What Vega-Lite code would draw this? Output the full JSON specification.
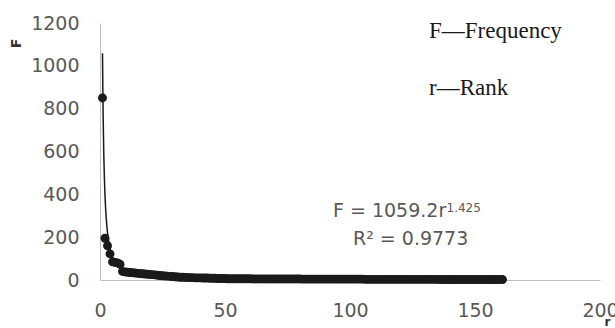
{
  "$schema": "https://vega.github.io/schema/vega-lite/v6.json",
  "width": 500,
  "height": 257,
  "autosize": {"type": "none"},
  "padding": {"left": 100, "top": 23, "right": 15, "bottom": 48},
  "background": "white",
  "config": {"view": {"stroke": null}},
  "datasets": {
    "points": [
      {"r":1,"F":850},{"r":2,"F":195},{"r":3,"F":160},{"r":4,"F":122},{"r":5,"F":85},{"r":6,"F":82},{"r":7,"F":80},{"r":8,"F":74},{"r":9,"F":40},{"r":10,"F":38},
      {"r":11,"F":36},{"r":12,"F":35},{"r":13,"F":34},{"r":14,"F":33},{"r":15,"F":31},{"r":16,"F":30},{"r":17,"F":29},{"r":18,"F":28},{"r":19,"F":27},{"r":20,"F":26},
      {"r":21,"F":25},{"r":22,"F":24},{"r":23,"F":22},{"r":24,"F":21},{"r":25,"F":20},{"r":26,"F":19},{"r":27,"F":18},{"r":28,"F":17},{"r":29,"F":16},{"r":30,"F":15},
      {"r":31,"F":14},{"r":32,"F":13},{"r":33,"F":13},{"r":34,"F":12},{"r":35,"F":12},{"r":36,"F":11},{"r":37,"F":11},{"r":38,"F":10},{"r":39,"F":10},{"r":40,"F":10},
      {"r":41,"F":9},{"r":42,"F":9},{"r":43,"F":9},{"r":44,"F":8},{"r":45,"F":8},{"r":46,"F":8},{"r":47,"F":7},{"r":48,"F":7},{"r":49,"F":7},{"r":50,"F":7},
      {"r":51,"F":6},{"r":52,"F":6},{"r":53,"F":6},{"r":54,"F":6},{"r":55,"F":6},{"r":56,"F":6},{"r":57,"F":6},{"r":58,"F":6},{"r":59,"F":6},{"r":60,"F":6},
      {"r":61,"F":5},{"r":62,"F":5},{"r":63,"F":5},{"r":64,"F":5},{"r":65,"F":5},{"r":66,"F":5},{"r":67,"F":5},{"r":68,"F":5},{"r":69,"F":5},{"r":70,"F":5},
      {"r":71,"F":5},{"r":72,"F":5},{"r":73,"F":5},{"r":74,"F":5},{"r":75,"F":5},{"r":76,"F":5},{"r":77,"F":5},{"r":78,"F":5},{"r":79,"F":5},{"r":80,"F":5},
      {"r":81,"F":4},{"r":82,"F":4},{"r":83,"F":4},{"r":84,"F":4},{"r":85,"F":4},{"r":86,"F":4},{"r":87,"F":4},{"r":88,"F":4},{"r":89,"F":4},{"r":90,"F":4},
      {"r":91,"F":4},{"r":92,"F":4},{"r":93,"F":4},{"r":94,"F":4},{"r":95,"F":4},{"r":96,"F":4},{"r":97,"F":4},{"r":98,"F":4},{"r":99,"F":4},{"r":100,"F":4},
      {"r":101,"F":4},{"r":102,"F":4},{"r":103,"F":4},{"r":104,"F":4},{"r":105,"F":4},{"r":106,"F":3},{"r":107,"F":3},{"r":108,"F":3},{"r":109,"F":3},{"r":110,"F":3},
      {"r":111,"F":3},{"r":112,"F":3},{"r":113,"F":3},{"r":114,"F":3},{"r":115,"F":3},{"r":116,"F":3},{"r":117,"F":3},{"r":118,"F":3},{"r":119,"F":3},{"r":120,"F":3},
      {"r":121,"F":3},{"r":122,"F":3},{"r":123,"F":3},{"r":124,"F":3},{"r":125,"F":3},{"r":126,"F":3},{"r":127,"F":3},{"r":128,"F":3},{"r":129,"F":3},{"r":130,"F":3},
      {"r":131,"F":3},{"r":132,"F":3},{"r":133,"F":3},{"r":134,"F":3},{"r":135,"F":3},{"r":136,"F":2},{"r":137,"F":2},{"r":138,"F":2},{"r":139,"F":2},{"r":140,"F":2},
      {"r":141,"F":2},{"r":142,"F":2},{"r":143,"F":2},{"r":144,"F":2},{"r":145,"F":2},{"r":146,"F":2},{"r":147,"F":2},{"r":148,"F":2},{"r":149,"F":2},{"r":150,"F":2},
      {"r":151,"F":2},{"r":152,"F":2},{"r":153,"F":2},{"r":154,"F":2},{"r":155,"F":2},{"r":156,"F":2},{"r":157,"F":2},{"r":158,"F":2},{"r":159,"F":2},{"r":160,"F":2},
      {"r":161,"F":2}
    ],
    "trend": [
      {"r":1,"F":1059.2},{"r":1.1,"F":924.7},{"r":1.25,"F":770.7},{"r":1.5,"F":594.3},{"r":1.75,"F":477.2},{"r":2,"F":394.5},
      {"r":2.5,"F":287.0},{"r":3,"F":221.3},{"r":4,"F":146.9},{"r":5,"F":106.9},{"r":6,"F":82.4},{"r":8,"F":54.7},
      {"r":10,"F":39.8},{"r":13,"F":27.4},{"r":16,"F":20.4},{"r":20,"F":14.8},{"r":25,"F":10.8},{"r":30,"F":8.3},
      {"r":40,"F":5.5},{"r":50,"F":4.0},{"r":70,"F":2.5},{"r":100,"F":1.5},{"r":130,"F":1.03},{"r":161,"F":0.76}
    ],
    "notes": [
      {"kind":"legend","x":131.6,"y":1131,"label":"F—Frequency"},
      {"kind":"legend","x":131.6,"y":864,"label":"r—Rank"},
      {"kind":"eq","x":93.2,"y":294,"label":"F = 1059.2r"},
      {"kind":"sup","x":138.6,"y":316,"label":"1.425"},
      {"kind":"eq","x":101.2,"y":163,"label":"R² = 0.9773"}
    ]
  },
  "encoding": {
    "x": {
      "field": "r", "type": "quantitative",
      "scale": {"domain": [0, 200], "nice": false},
      "axis": {
        "values": [0, 50, 100, 150, 200], "format": "d",
        "title": "r", "titleFont": "DejaVu Sans", "titleFontSize": 12, "titleFontWeight": "bold", "titleColor": "#333333",
        "titleAnchor": "end", "titleAlign": "center", "titleX": 507, "titleY": 48, "titleBaseline": "bottom",
        "labelFont": "DejaVu Sans", "labelFontSize": 19, "labelColor": "#595959", "labelPadding": 21,
        "labelFlush": false, "labelOverlap": false,
        "ticks": false, "grid": false, "domainColor": "#bfbfbf", "domainWidth": 1
      }
    },
    "y": {
      "field": "F", "type": "quantitative",
      "scale": {"domain": [0, 1200], "nice": false},
      "axis": {
        "values": [0, 200, 400, 600, 800, 1000, 1200], "format": "d",
        "title": "F", "titleFont": "DejaVu Sans", "titleFontSize": 14, "titleFontWeight": "bold", "titleColor": "#333333",
        "titleAngle": -90, "titleAlign": "center", "titleBaseline": "middle", "titleX": -84, "titleY": 20,
        "labelFont": "DejaVu Sans", "labelFontSize": 19, "labelColor": "#595959", "labelPadding": 21,
        "labelFlush": false, "labelOverlap": false,
        "ticks": false, "grid": false, "domainColor": "#bfbfbf", "domainWidth": 1
      }
    }
  },
  "layer": [
    {
      "data": {"name": "points"},
      "mark": {"type": "circle", "size": 80, "color": "#1a1a1a", "opacity": 1}
    },
    {
      "data": {"name": "trend"},
      "mark": {"type": "line", "color": "#1a1a1a", "strokeWidth": 1.5, "interpolate": "monotone"},
      "encoding": {}
    },
    {
      "data": {"name": "notes"},
      "transform": [{"filter": "datum.kind === 'legend'"}],
      "mark": {"type": "text", "align": "left", "baseline": "alphabetic", "font": "Liberation Serif", "fontSize": 23, "color": "#1a1a1a"},
      "encoding": {"x": {"field": "x", "type": "quantitative"}, "y": {"field": "y", "type": "quantitative"}, "text": {"field": "label"}}
    },
    {
      "data": {"name": "notes"},
      "transform": [{"filter": "datum.kind === 'eq'"}],
      "mark": {"type": "text", "align": "left", "baseline": "alphabetic", "font": "DejaVu Sans", "fontSize": 19, "color": "#595959"},
      "encoding": {"x": {"field": "x", "type": "quantitative"}, "y": {"field": "y", "type": "quantitative"}, "text": {"field": "label"}}
    },
    {
      "data": {"name": "notes"},
      "transform": [{"filter": "datum.kind === 'sup'"}],
      "mark": {"type": "text", "align": "left", "baseline": "alphabetic", "font": "DejaVu Sans", "fontSize": 12, "color": "#595959"},
      "encoding": {"x": {"field": "x", "type": "quantitative"}, "y": {"field": "y", "type": "quantitative"}, "text": {"field": "label"}}
    }
  ]
}
